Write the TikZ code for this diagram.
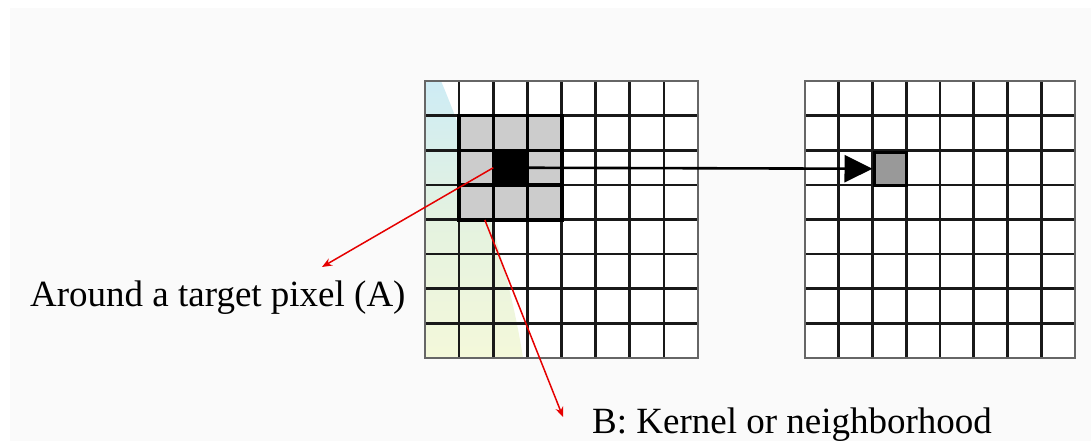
\documentclass[tikz,border=0pt]{standalone}
\usepackage{fontspec}
\setmainfont{Liberation Serif}
\usetikzlibrary{arrows.meta, positioning, calc}
\definecolor{shadeTop}{RGB}{206,236,245}
\definecolor{shadeMid}{RGB}{228,242,224}
\definecolor{shadeBot}{RGB}{244,248,218}
\definecolor{pageGray}{RGB}{250,250,250}

\begin{document}
\begin{tikzpicture}[x=1pt, y=-1pt]

        % --- Styles ---
        \tikzset{
            gridLine/.style={line width=2.6pt, black!90},
            gridBorder/.style={line width=2.2pt, black!60},
            kernelFill/.style={rectangle, fill=black!20, inner sep=0pt, minimum width=102.4pt, minimum height=103.9pt, anchor=north west},
            kernelEdge/.style={line width=3.4pt, black},
            targetPix/.style={rectangle, fill=black, inner sep=0pt, minimum width=34.1pt, minimum height=34.6pt, anchor=north west},
            outPix/.style={rectangle, draw=black, line width=3pt, fill=black!40, inner sep=0pt, minimum width=32pt, minimum height=33pt, anchor=north west},
            mapArrow/.style={-{Triangle[length=28pt, width=27pt]}, line width=2.6pt, black},
            redArrow/.style={-{Stealth[length=10pt, width=8pt]}, line width=1.5pt, red!90!black},
            labelText/.style={inner sep=0pt, anchor=base west, text=black, font=\fontsize{37}{44}\selectfont}
        }

        % --- Pixel Grid Macro (x origin, cell width) ---
        \def\drawPixGrid#1#2{
            \foreach \i in {1,...,7} {
                \draw[gridLine] ({#1+\i*#2},81) -- ++(0,277);
                \draw[gridLine] (#1,{81+\i*34.625}) -- ++({8*#2},0);
            }
            \draw[gridBorder] (#1,81) rectangle ++({8*#2},277);
        }

        \useasboundingbox (0,0) rectangle (1091,441);

        % 1. Page background
        \fill[pageGray] (10,8) rectangle (1091,441);

        % 2. Coloured band on the input image
        \fill[white] (425,81) rectangle (698,358);
        \shade[top color=shadeTop, bottom color=shadeBot, middle color=shadeMid]
            (425,81) -- (441,81) .. controls (466,140) and (508,260) .. (523,358) -- (425,358) -- cycle;
        \fill[white] (805,81) rectangle (1075,358);

        % 3. Kernel and pixels
        \node[kernelFill] (kernel) at (459.1,115.6) {};
        \node[targetPix] (target) at (493.25,150.25) {};

        % 4. Grids
        \drawPixGrid{425}{34.125}
        \drawPixGrid{805}{33.75}

        % kernel inner lines drawn heavier
        \foreach \k in {1,2} {
            \draw[kernelEdge] ($(kernel.north west)!{\k/3}!(kernel.north east)$) -- ($(kernel.south west)!{\k/3}!(kernel.south east)$);
            \draw[kernelEdge] ($(kernel.north west)!{\k/3}!(kernel.south west)$) -- ($(kernel.north east)!{\k/3}!(kernel.south east)$);
        }
        \node[targetPix] at (493.25,150.25) {};
        \draw[kernelEdge] (kernel.north west) rectangle (kernel.south east);
        \node[outPix] (outpix) at (872.5,150.75) {};

        % 5. Mapping arrow
        \draw[mapArrow] (target.east) -- (outpix.west);

        % 6. Labels
        \node[labelText] (labA) at (30,306) {Around a target pixel (A)};
        \node[labelText] (labB) at (592,433) {B: Kernel or neighborhood};

        \coordinate (tipA) at (322,267);
        \coordinate (tipB) at (563,417);
        \draw[redArrow] (target.west) -- (tipA);
        \draw[redArrow] ($(kernel.south west)!0.25!(kernel.south east)$) -- (tipB);

\end{tikzpicture}
\end{document}
